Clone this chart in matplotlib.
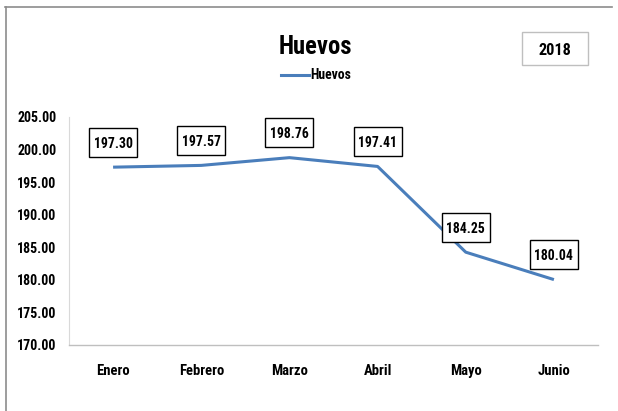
import matplotlib
matplotlib.use("Agg")
import matplotlib.pyplot as plt
import matplotlib.transforms as mtrans
from matplotlib.lines import Line2D
from matplotlib.patches import Rectangle
from matplotlib.ticker import FormatStrFormatter
from matplotlib import font_manager

months = ["Enero", "Febrero", "Marzo", "Abril", "Mayo", "Junio"]
values = [197.30, 197.57, 198.76, 197.41, 184.25, 180.04]
yticks = [170, 175, 180, 185, 190, 195, 200, 205]
title = "Huevos"
series_name = "Huevos"
year_label = "2018"

# pick a narrow bold font if available
bold_names = {f.name for f in font_manager.fontManager.ttflist if f.weight >= 600 and f.style == "normal"}
pref = ["Liberation Sans Narrow", "Arial Narrow", "Roboto Condensed", "PT Sans Narrow",
        "Archivo Narrow", "Open Sans Condensed", "Carlito", "Liberation Sans"]
fam = [f for f in pref if f in bold_names][:1] + ["DejaVu Sans"]
plt.rcParams['font.family'] = fam

W, H = 618, 411
fig = plt.figure(figsize=(W / 100, H / 100), dpi=100)
renderer = fig.canvas.get_renderer()


def fit_size(s, target_px, base=10):
    t = fig.text(0, 0, s, fontsize=base, fontweight="bold")
    w = t.get_window_extent(renderer=renderer).width
    t.remove()
    return base * target_px / w


ax = fig.add_axes([69 / W, (H - 345) / H, (598 - 69) / W, (345 - 117) / H])

color = "#4a7ebb"
x = list(range(len(months)))
ax.plot(x, values, color=color, lw=2.2, solid_capstyle="butt", zorder=2)
ax.set_xlim(-0.5, len(months) - 0.5)
ax.set_ylim(170, 205)
ax.set_yticks(yticks)
ax.yaxis.set_major_formatter(FormatStrFormatter("%.2f"))
ax.set_xticks(x)
ax.set_xticklabels(months)
tick_fs = fit_size("205.00", 39)
ax.tick_params(axis="x", length=0, labelsize=fit_size("Febrero", 45), pad=14)
ax.tick_params(axis="y", length=0, labelsize=tick_fs, pad=9)
for lab in ax.get_xticklabels() + ax.get_yticklabels():
    lab.set_fontweight("bold")
ax.spines["top"].set_visible(False)
ax.spines["right"].set_visible(False)
ax.spines["left"].set_color("#d9d9d9")
ax.spines["bottom"].set_color("#bfbfbf")
ax.spines["bottom"].set_linewidth(1.0)

# data labels: fixed-size boxes (48 x 29 px) centered 25 px above each point
lab_fs = fit_size("197.30", 39)
bw, bh, off = 48, 29, 25
for xi, v in zip(x, values):
    tr = mtrans.Affine2D() + mtrans.ScaledTranslation(xi, v, ax.transData)
    ax.add_patch(Rectangle((-bw / 2, off - bh / 2), bw, bh, transform=tr, fc="white",
                           ec="black", lw=1.0, zorder=3, clip_on=False))
    ax.annotate(f"{v:.2f}", (xi, v), xytext=(0, off * 0.72), textcoords="offset points",
                ha="center", va="center_baseline", fontsize=lab_fs, fontweight="bold", zorder=4)

fig.text(315.5 / W, 1 - 44.5 / H, title, ha="center", va="center_baseline",
         fontsize=fit_size(title, 73), fontweight="bold")

# legend
fig.add_artist(Line2D([281 / W, 309 / W], [1 - 75 / H, 1 - 75 / H], color=color, lw=2.2))
fig.text(310 / W, 1 - 75 / H, series_name, ha="left", va="center",
         fontsize=fit_size(series_name, 41), fontweight="bold")

# year box
fig.add_artist(Rectangle((522 / W, 1 - 65 / H), 66 / W, 33 / H, transform=fig.transFigure,
                         fc="white", ec="#bfbfbf", lw=1.0))
fig.text(554.5 / W, 1 - 49 / H, year_label, ha="center", va="center_baseline",
         fontsize=fit_size(year_label, 33), fontweight="bold")

# outer border (top and left)
fig.add_artist(Line2D([5 / W, 612 / W], [1 - 7.5 / H, 1 - 7.5 / H], color="#8c8c8c", lw=1.2))
fig.add_artist(Line2D([5.5 / W, 5.5 / W], [0, 1 - 7.5 / H], color="#8c8c8c", lw=1.2))

fig.savefig("out.png", dpi=100)
